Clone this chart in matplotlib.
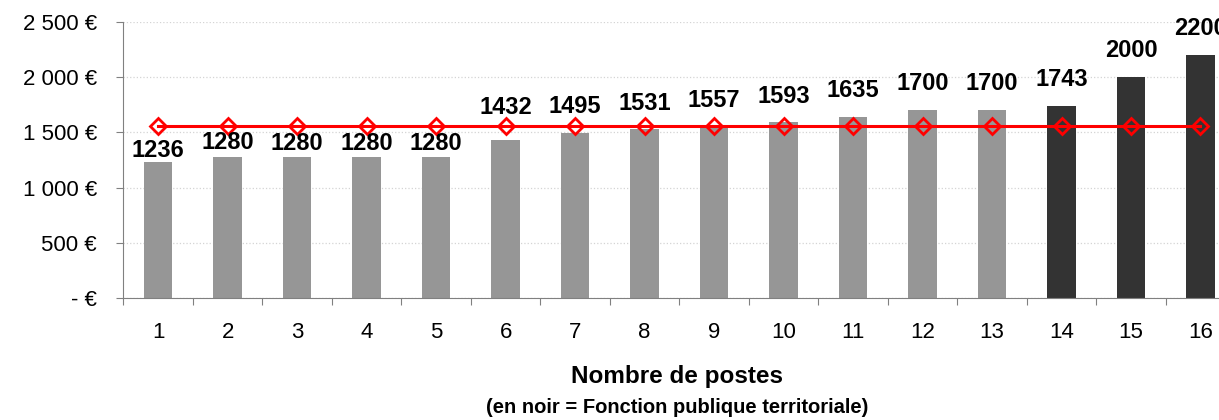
import numpy as np
from matplotlib import pyplot as plt
from matplotlib.ticker import FixedLocator, NullFormatter

plt.rcParams['font.family'] = ['Liberation Sans', 'DejaVu Sans']

postes = [str(i) for i in range(1, 17)]
salaires = [1236, 1280, 1280, 1280, 1280, 1432, 1495, 1531, 1557, 1593,
            1635, 1700, 1700, 1743, 2000, 2200]
territoriale = [False] * 13 + [True] * 3
moyenne = [1557] * 16

y_ticks = [0, 500, 1000, 1500, 2000, 2500]
y_labels = ['- €', '500 €', '1 000 €', '1 500 €', '2 000 €', '2 500 €']

fig = plt.figure(figsize=(12.19, 4.2), dpi=100)
# the axes runs a bit past the right edge, the last label gets cut like in the original
ax = fig.add_axes([0.1013, 0.2905, 0.912, 0.6571])

x = np.arange(len(postes))
colors = ['#333333' if t else '#969696' for t in territoriale]
ax.bar(x, salaires, width=0.41, color=colors, zorder=2)

# reference line with open diamonds
ax.plot(x, moyenne, color='#ff0000', linewidth=2.2, marker='D', markersize=8.5,
        markerfacecolor='none', markeredgecolor='#ff0000', markeredgewidth=2,
        zorder=3)

# gap (points) between bar top and label baseline; the first ones were pulled
# under the red line in the original
label_gap = [3, 5.5, 4.5, 4.5, 4.5, 19, 14.5, 14, 14, 14, 14.5, 14.5, 14.5, 14, 14.5, 14.5]
for xi, v, g in zip(x, salaires, label_gap):
    ax.annotate(str(v), (xi, v), xytext=(0, g), textcoords='offset points',
                ha='center', va='baseline', fontsize=17, fontweight='bold',
                annotation_clip=False, zorder=4)

ax.set_xlim(-0.5, len(postes) - 0.5)
ax.set_ylim(0, 2500)
ax.set_yticks(y_ticks)
ax.set_yticklabels(y_labels, fontsize=16)
ax.yaxis.grid(True, color='#d4d4d4', linestyle=':', linewidth=0.9, zorder=0)

ax.xaxis.set_major_locator(FixedLocator(np.arange(-0.5, len(postes), 1.0)))
ax.xaxis.set_major_formatter(NullFormatter())
ax.xaxis.set_minor_locator(FixedLocator(x))
ax.set_xticklabels(postes, minor=True, fontsize=16)
ax.tick_params(axis='x', which='major', length=5, direction='out', color='#808080')
ax.tick_params(axis='x', which='minor', length=0, pad=17)
ax.tick_params(axis='y', length=5, direction='out', color='#808080', pad=14)

for side in ['top', 'right']:
    ax.spines[side].set_visible(False)
for side in ['left', 'bottom']:
    ax.spines[side].set_color('#808080')

fig.text(0.5554, 0.1024, 'Nombre de postes', ha='center', va='center',
         fontsize=17.5, fontweight='bold')
fig.text(0.5554, 0.0286, '(en noir = Fonction publique territoriale)', ha='center',
         va='center', fontsize=14.5, fontweight='bold')

fig.savefig('out.png', dpi=100)
